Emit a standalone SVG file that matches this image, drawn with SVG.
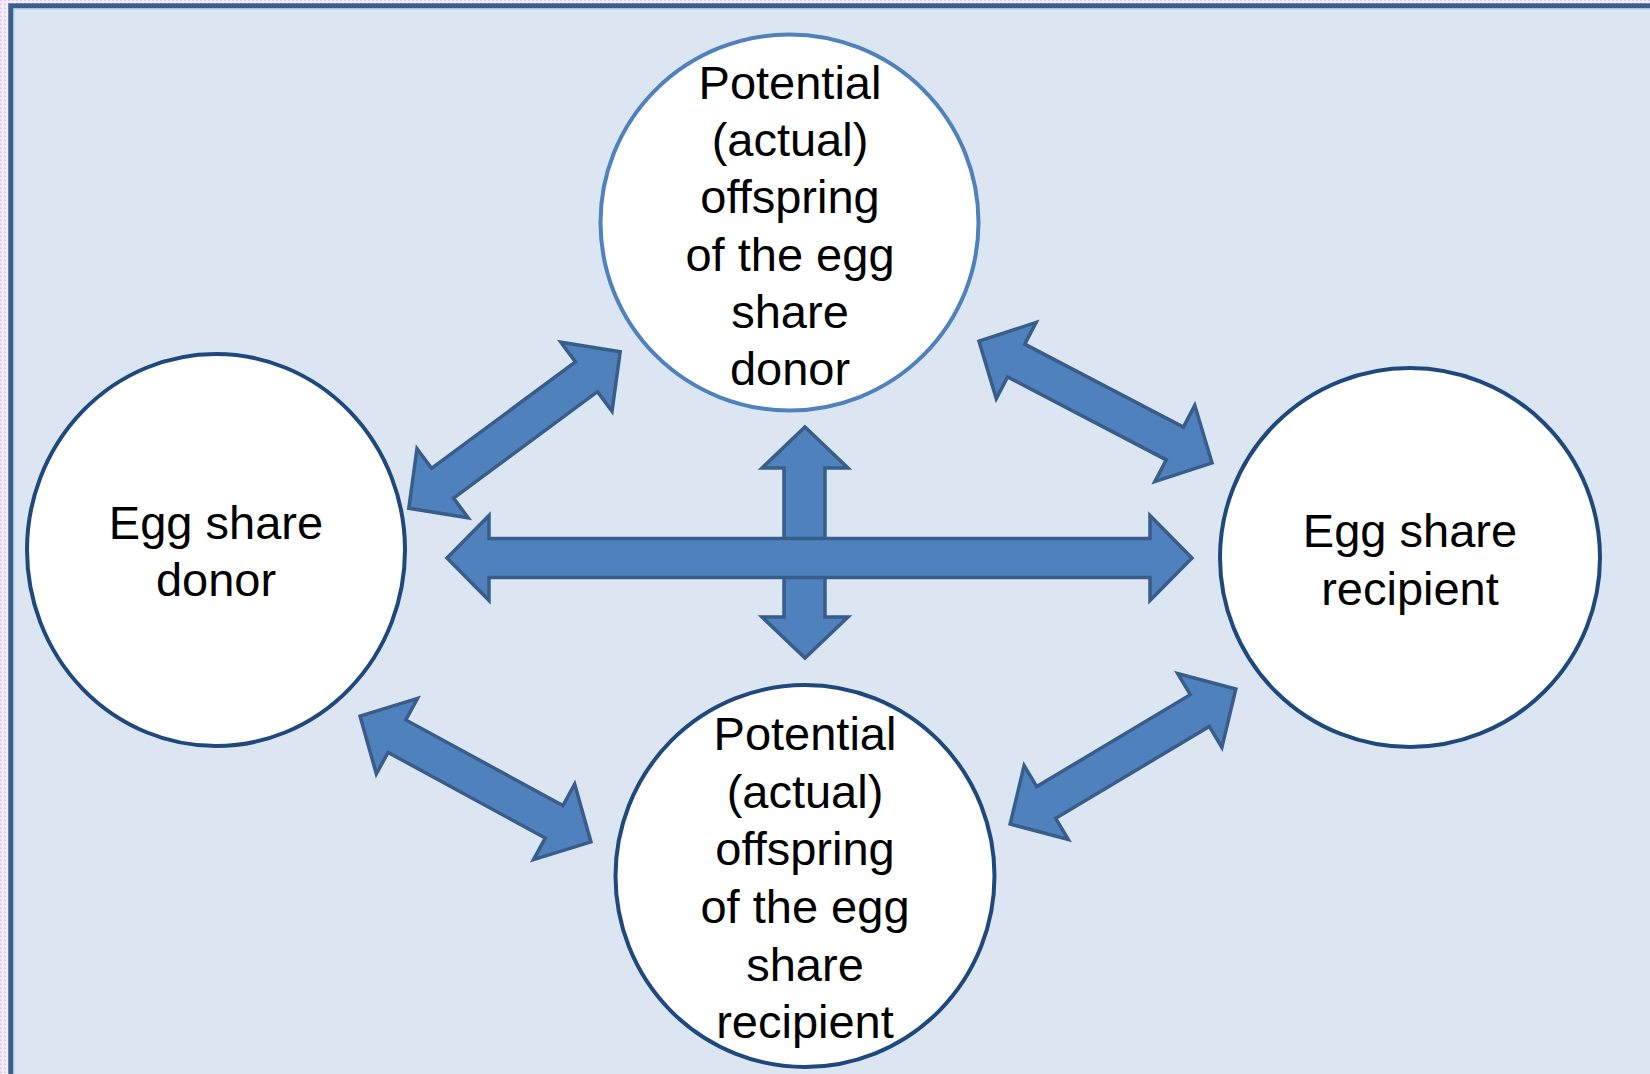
<svg xmlns="http://www.w3.org/2000/svg" width="1650" height="1074" viewBox="0 0 1650 1074">
  <defs>
    <pattern id="lilac" width="4" height="4" patternUnits="userSpaceOnUse">
      <rect width="4" height="4" fill="#f6efff"/>
      <rect x="0" y="0" width="2" height="1" fill="#dcc4ff"/>
      <rect x="0" y="2" width="1" height="2" fill="#e4d2ff"/>
    </pattern>
    <path id="darrow" d="M -131.5 0 L -89.5 -43 L -89.5 -18.5 L 89.5 -18.5 L 89.5 -43 L 131.5 0 L 89.5 43 L 89.5 18.5 L -89.5 18.5 L -89.5 43 Z"/>
  </defs>
  <style>
    .arrow { fill: #4f81bd; stroke: #385d8a; stroke-width: 3.5; stroke-linejoin: miter; }
    .node { fill: #ffffff; stroke: #1f497d; stroke-width: 4; }
    .node-light { fill: #ffffff; stroke: #4f81bd; stroke-width: 4; }
    .label { font-family: "Liberation Sans", Arial, sans-serif; font-size: 47px; fill: #000000; text-anchor: middle; }
  </style>

  <rect x="0" y="0" width="1650" height="1074" fill="url(#lilac)"/>
  <rect x="10.8" y="5.8" width="1660" height="1080" fill="#dce6f2" stroke="#3a5f8b" stroke-width="5"/>
  <rect x="13.8" y="8.8" width="1660" height="1080" fill="none" stroke="#a9c1df" stroke-width="1.2"/>

  <g id="node-top">
    <ellipse class="node-light" cx="789.5" cy="222.5" rx="189" ry="188"/>
    <text class="label" x="790" y="99">Potential</text>
    <text class="label" x="790" y="156">(actual)</text>
    <text class="label" x="790" y="213">offspring</text>
    <text class="label" x="790" y="271">of the egg</text>
    <text class="label" x="790" y="328">share</text>
    <text class="label" x="790" y="385">donor</text>
  </g>

  <g id="node-left">
    <ellipse class="node" cx="216" cy="550" rx="189" ry="196"/>
    <text class="label" x="216" y="539">Egg share</text>
    <text class="label" x="216" y="596">donor</text>
  </g>

  <g id="node-right">
    <ellipse class="node" cx="1410" cy="557.5" rx="190" ry="189.5"/>
    <text class="label" x="1410" y="547">Egg share</text>
    <text class="label" x="1410" y="605">recipient</text>
  </g>

  <g id="node-bottom">
    <ellipse class="node" cx="805" cy="876" rx="189.5" ry="191"/>
    <text class="label" x="805" y="750">Potential</text>
    <text class="label" x="805" y="808">(actual)</text>
    <text class="label" x="805" y="865">offspring</text>
    <text class="label" x="805" y="923">of the egg</text>
    <text class="label" x="805" y="981">share</text>
    <text class="label" x="805" y="1038">recipient</text>
  </g>

  <g id="connectors">
    <use href="#darrow" class="arrow" transform="translate(514.5 430) rotate(-36.5)"/>
    <use href="#darrow" class="arrow" transform="translate(1095.5 402) rotate(27.6)"/>
    <use href="#darrow" class="arrow" transform="translate(475.5 779) rotate(28.6)"/>
    <use href="#darrow" class="arrow" transform="translate(1123 756.5) rotate(-30.9)"/>
    <path class="arrow" d="M 805 427 L 848 468 L 825 468 L 825 617 L 848 617 L 805 658 L 762 617 L 784 617 L 784 468 L 762 468 Z"/>
    <path class="arrow" d="M 447 558 L 489 515.5 L 489 538.5 L 1150 538.5 L 1150 515.5 L 1192 558 L 1150 600.5 L 1150 577.5 L 489 577.5 L 489 600.5 Z"/>
  </g>
</svg>
